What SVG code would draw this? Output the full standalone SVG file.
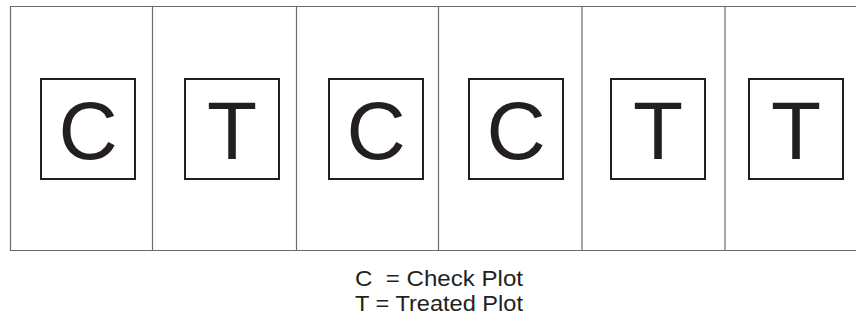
<svg xmlns="http://www.w3.org/2000/svg" width="856" height="323" viewBox="0 0 856 323">
<style>
.cell{fill:none;stroke:#6b6b6b;stroke-width:1.2}
.box{fill:none;stroke:#231f20;stroke-width:2}
.lt{font-family:"Liberation Sans",Arial,sans-serif;font-size:82px;fill:#231f20;text-anchor:middle}
.lg{font-family:"Liberation Sans",Arial,sans-serif;font-size:22px;fill:#231f20}
</style>
<rect width="856" height="323" fill="#ffffff"/>
<g id="field">
<path class="cell" d="M856,6.5H10.5V250.5H856"/>
<g id="connectors">
<line class="cell" x1="152.5" y1="6" x2="152.5" y2="251"/>
<line class="cell" x1="296.5" y1="6" x2="296.5" y2="251"/>
<line class="cell" x1="438.5" y1="6" x2="438.5" y2="251"/>
<line class="cell" x1="582" y1="6" x2="582" y2="251"/>
<line class="cell" x1="725" y1="6" x2="725" y2="251"/>
</g>
</g>
<g id="plot1"><rect class="box" x="41" y="79" width="94" height="100"/><text class="lt" x="88" y="159">C</text></g>
<g id="plot2"><rect class="box" x="185" y="79" width="94" height="100"/><text class="lt" x="232" y="159">T</text></g>
<g id="plot3"><rect class="box" x="329" y="79" width="94" height="100"/><text class="lt" x="376" y="159">C</text></g>
<g id="plot4"><rect class="box" x="469" y="79" width="94" height="100"/><text class="lt" x="516" y="159">C</text></g>
<g id="plot5"><rect class="box" x="611" y="79" width="94" height="100"/><text class="lt" x="658" y="159">T</text></g>
<g id="plot6"><rect class="box" x="749" y="79" width="94" height="100"/><text class="lt" x="796" y="159">T</text></g>
<g id="legend">
<text class="lg" x="355" y="286" textLength="168" lengthAdjust="spacingAndGlyphs" xml:space="preserve">C  = Check Plot</text>
<text class="lg" x="355" y="311" textLength="168" lengthAdjust="spacingAndGlyphs">T = Treated Plot</text>
</g>
</svg>
